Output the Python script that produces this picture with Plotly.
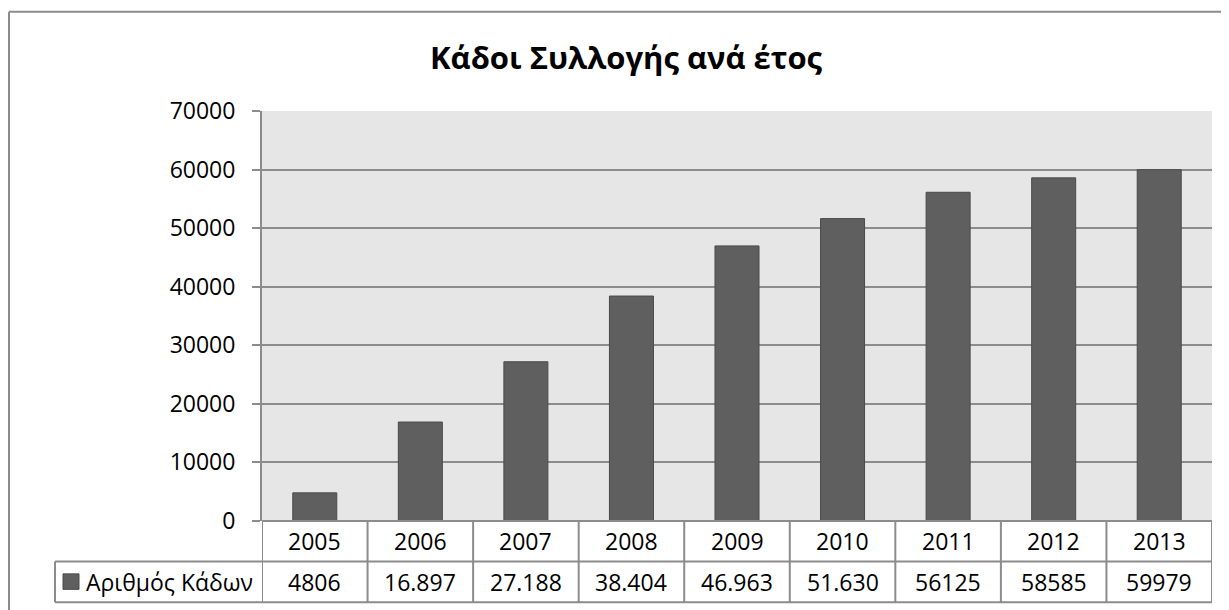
import plotly.graph_objects as go

years = ["2005", "2006", "2007", "2008", "2009", "2010", "2011", "2012", "2013"]
values = [4806, 16897, 27188, 38404, 46963, 51630, 56125, 58585, 59979]
value_labels = ["4806", "16.897", "27.188", "38.404", "46.963", "51.630", "56125", "58585", "59979"]
series_name = "Αριθμός Κάδων"
title_text = "Κάδοι Συλλογής ανά έτος"
y_ticks = [0, 10000, 20000, 30000, 40000, 50000, 60000, 70000]

OFF = 8  # page body margin
W, H = 1229, 610
PL, PR, PT, PB = 262 - OFF, 1212 - OFF, 110.5 - OFF, 521.5 - OFF
pw, ph = PR - PL, PB - PT

def px(p):
    return (p - OFF - PL) / pw

def py(p):
    return (PB - (p - OFF)) / ph

FONT = "Open Sans"
BAR = "#5f5f5f"
GRID = "#8c8c8c"

fig = go.Figure()
fig.add_trace(go.Bar(
    x=list(range(len(years))), y=values, name=series_name,
    marker=dict(color=BAR, line=dict(color="#4a4a4a", width=1)),
    showlegend=False, hoverinfo="x+y",
))

shapes = []
anns = []
line_col = "#8c8c8c"
# outer chart border (top and left visible)
shapes.append(dict(type="line", xref="paper", yref="paper", x0=px(9), x1=px(1280), y0=py(11), y1=py(11), line=dict(color=line_col, width=2)))
shapes.append(dict(type="line", xref="paper", yref="paper", x0=px(9), x1=px(9), y0=py(11), y1=py(660), line=dict(color=line_col, width=2)))

r1, r2 = 562, 603
n = len(years)
shapes.append(dict(type="line", xref="x", yref="paper", x0=-0.5, x1=n - 0.5, y0=0, y1=0, line=dict(color=line_col, width=2)))
shapes.append(dict(type="line", xref="paper", yref="paper", x0=px(55), x1=1, y0=py(r1), y1=py(r1), line=dict(color=line_col, width=2)))
shapes.append(dict(type="line", xref="paper", yref="paper", x0=px(55), x1=1, y0=py(r2), y1=py(r2), line=dict(color=line_col, width=2)))
shapes.append(dict(type="line", xref="paper", yref="paper", x0=px(55), x1=px(55), y0=py(r1), y1=py(r2), line=dict(color=line_col, width=2)))
for i in range(n + 1):
    shapes.append(dict(type="line", xref="x", yref="paper", x0=i - 0.5, x1=i - 0.5, y0=0, y1=py(r2), line=dict(color=line_col, width=2)))
# legend key
shapes.append(dict(type="rect", xref="paper", yref="paper", x0=px(63), x1=px(79), y0=py(574.5), y1=py(590), fillcolor=BAR, line=dict(color="#4a4a4a", width=1)))

TS = 23
for i in range(n):
    anns.append(dict(x=i, y=py((521.5 + r1) / 2), xref="x", yref="paper", text=years[i], showarrow=False,
                     font=dict(family=FONT, size=TS, color="#000"), xanchor="center", yanchor="middle"))
    anns.append(dict(x=i, y=py((r1 + r2) / 2), xref="x", yref="paper", text=value_labels[i], showarrow=False,
                     font=dict(family=FONT, size=TS, color="#000"), xanchor="center", yanchor="middle"))
anns.append(dict(x=px(84), y=py((r1 + r2) / 2), xref="paper", yref="paper", text=series_name, showarrow=False,
                 font=dict(family=FONT, size=TS, color="#000"), xanchor="left", yanchor="middle"))
anns.append(dict(x=px(626), y=py(56), xref="paper", yref="paper", text="<b>" + title_text + "</b>", showarrow=False,
                 font=dict(family=FONT, size=31, color="#000"), xanchor="center", yanchor="middle"))

fig.update_layout(
    width=W, height=H,
    margin=dict(l=PL, r=W - PR, t=PT, b=H - PB, pad=0),
    paper_bgcolor="white", plot_bgcolor="#e6e6e6",
    bargap=0.583,
    shapes=shapes, annotations=anns,
    font=dict(family=FONT, size=TS, color="#000"),
)
fig.update_xaxes(range=[-0.5, n - 0.5], showticklabels=False, showgrid=False, zeroline=False,
                 showline=False, ticks="", fixedrange=True)
fig.update_yaxes(range=[0, 70000], tickvals=y_ticks, ticktext=[str(v) for v in y_ticks],
                 showgrid=True, gridcolor=GRID, gridwidth=2, zeroline=False,
                 showline=True, linecolor=line_col, linewidth=2,
                 ticks="outside", ticklen=8, tickcolor=line_col, tickwidth=2,
                 ticklabelstandoff=12, tickfont=dict(family=FONT, size=TS, color="#000"), fixedrange=True)

fig.write_html("out.html")
